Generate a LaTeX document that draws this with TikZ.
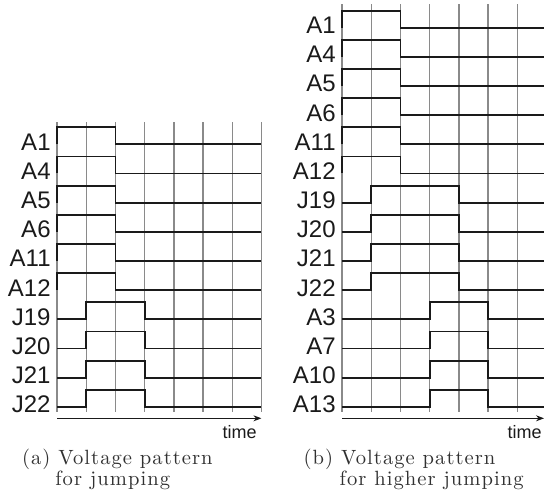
\documentclass[tikz,border=0pt]{standalone}
\usepackage{fontspec}
\newfontfamily\labelfont{Liberation Sans}
\newfontfamily\capfont[LetterSpace=5]{lmroman10-regular.otf}
\usepackage{xcolor}
\definecolor{ink}{HTML}{1A1A1A}
\definecolor{gridgray}{HTML}{8A8A8A}
\usepackage{tikz}
\usetikzlibrary{arrows.meta}
\tikzset{
  >={Stealth[length=4pt, width=3pt]},
  gridline/.style={draw=gridgray, line width=0.7pt},
  wave/.style={draw=ink, line width=0.9pt},
  axis/.style={->, draw=ink, line width=0.5pt},
  sig/.style={font=\labelfont\fontsize{12}{12}\selectfont, text=ink, inner sep=0pt, anchor=base east},
  timelbl/.style={font=\labelfont\fontsize{9}{9}\selectfont, text=ink, inner sep=0pt, anchor=base east},
  caption/.style={font=\capfont\fontsize{10.3}{12}\selectfont, text=ink!90,
    inner sep=0pt, anchor=base west},
}

\begin{document}
\begin{tikzpicture}[x=0.5pt, y=-0.5pt]
  \useasboundingbox (0,0) rectangle (544,503);
  \clip (0,0) rectangle (544,503);

  % (a) jumping
  \begin{scope}[shift={(57,144.3)}]
    \foreach \k in {0,...,7}
      \draw[gridline] (29.2*\k,-22) -- (29.2*\k,267.5);
    \foreach \name/\on/\off [count=\i from 0] in {A1/0/2, A4/0/2, A5/0/2, A6/0/2, A11/0/2,
        A12/0/2, J19/1/3, J20/1/3, J21/1/3, J22/1/3} {
      \node[sig] (a\name) at (-6,29.17*\i+6) {\name};
      \draw[wave] (0,29.17*\i) -- (29.2*\on,29.17*\i) -- ++(0,-17) -- (29.2*\off,29.17*\i-17)
        -- ++(0,17) -- (204.4,29.17*\i);
    }
    \draw[axis] (0,274) -- (204.4,274);
    \node[timelbl] (atime) at (200,294) {time};
  \end{scope}

  % (b) higher jumping
  \begin{scope}[shift={(342,27.6)}]
    \foreach \k in {0,...,7}
      \draw[gridline] (29.2*\k,-23.6) -- (29.2*\k,384.2);
    \foreach \name/\on/\off [count=\i from 0] in {A1/0/2, A4/0/2, A5/0/2, A6/0/2, A11/0/2,
        A12/0/2, J19/1/4, J20/1/4, J21/1/4, J22/1/4, A3/3/5, A7/3/5, A10/3/5, A13/3/5} {
      \node[sig] (b\name) at (-6,29.17*\i+6) {\name};
      \draw[wave] (0,29.17*\i) -- (29.2*\on,29.17*\i) -- ++(0,-17) -- (29.2*\off,29.17*\i-17)
        -- ++(0,17) -- (204.4,29.17*\i);
    }
    \draw[axis] (0,390.7) -- (202,390.7);
    \node[timelbl] (btime) at (200,410.7) {time};
  \end{scope}

  \node[caption] (capa) at (21.7,464) {(a) Voltage pattern};
  \node[caption] (capa2) at (55,485) {for jumping};
  \node[caption] (capb) at (303.3,464) {(b) Voltage pattern};
  \node[caption] (capb2) at (339.3,485) {for higher jumping};
\end{tikzpicture}
\end{document}
